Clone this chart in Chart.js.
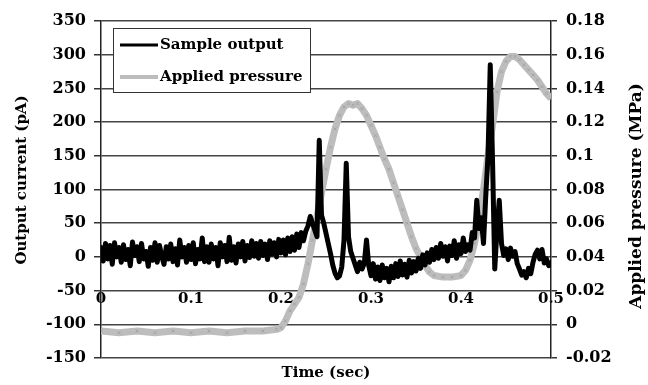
<!DOCTYPE html>
<html>
<head>
<meta charset="utf-8">
<script src="https://cdn.jsdelivr.net/npm/chart.js@4.4.1/dist/chart.umd.min.js"></script>
<style>
  body { margin: 0; background: #fff; }
  canvas { display: block; }
</style>
</head>
<body>
<canvas id="chart" width="648" height="385"></canvas>
<script>
// labels
var xTitle = "Time (sec)";
var yTitle = "Output current (pA)";
var y1Title = "Applied pressure (MPa)";
var seriesNames = ["Sample output", "Applied pressure"];

// output current (pA), sampled every 2.5 ms from 0 to 0.5 s
var currentValues = [
  14, -6, 20, -3, 17, -11, 21, 0, 14, -8,
  18, -4, 11, -13, 22, 2, 15, -7, 20, -3,
  8, -14, 14, -5, 21, -8, 17, 1, -11, 15,
  -3, 19, -7, 12, -12, 25, 0, 14, -8, 17,
  -4, 21, -10, 11, -3, 28, -7, 15, -8, 19,
  -3, 14, -13, 21, 0, 17, -7, 29, -5, 15,
  -9, 19, 0, 23, -6, 17, -1, 24, 1, 20,
  -2, 23, 2, 19, -4, 24, 4, 21, 0, 26,
  6, 25, 3, 28, 8, 30, 10, 34, 14, 36,
  24, 38, 46, 60, 50, 40, 30, 173, 62, 50,
  35, 20, 5, -12, -24, -31, -28, -15, 25, 139,
  30, 8, -2, -12, -22, -8, -18, -10, 25, -13,
  -28, -10, -33, -15, -35, -12, -31, -17, -37, -14,
  -31, -10, -29, -6, -27, -11, -30, -5, -24, -7,
  -21, -2, -17, 3, -12, 6, -8, 11, -4, 14,
  -2, 20, 1, 15, -6, 16, 2, 24, -2, 18,
  5, 28, 8, 18, 10, 36, 28, 84, 42, 58,
  20, 90, 150, 285, 145, -18, 40, 84, 20, 2,
  12, -4, 13, 1, 8, -10, -18, -27, -22, -31,
  -17, -25, -8, 4, 10, -3, 11, -9, -3, -13,
  -9
];
var currentTime = [];
for (var i = 0; i < currentValues.length; i++) {
  currentTime.push(+(i * 0.0025).toFixed(4));
}

// applied pressure (MPa)
var pressureTime = [
  0, 0.02, 0.04, 0.06, 0.08, 0.1, 0.12, 0.14, 0.16, 0.18, 0.195,
  0.2, 0.205, 0.21, 0.215, 0.22, 0.225, 0.23, 0.235, 0.24, 0.245,
  0.25, 0.255, 0.26, 0.265, 0.27, 0.275, 0.28, 0.285, 0.29, 0.295,
  0.3, 0.305, 0.31, 0.315, 0.32, 0.325, 0.33, 0.335, 0.34, 0.345,
  0.35, 0.355, 0.36, 0.365, 0.37, 0.38, 0.39,
  0.4, 0.405, 0.41, 0.415, 0.42, 0.425, 0.43, 0.435, 0.44, 0.445,
  0.45, 0.455, 0.46, 0.465, 0.47, 0.475, 0.48, 0.485, 0.49, 0.495, 0.5
];
var pressureValues = [
  -0.004, -0.005, -0.004, -0.005, -0.004, -0.005, -0.004, -0.005, -0.004, -0.004, -0.003,
  -0.002, 0.002, 0.008, 0.012, 0.016, 0.024, 0.036, 0.05, 0.064, 0.078,
  0.092, 0.105, 0.116, 0.124, 0.129, 0.131, 0.130, 0.131, 0.128, 0.124,
  0.118, 0.112, 0.105, 0.098, 0.092, 0.084, 0.076, 0.068, 0.06, 0.052,
  0.045, 0.04, 0.035, 0.031, 0.029, 0.028, 0.028,
  0.029, 0.032, 0.038, 0.048, 0.062, 0.08, 0.1, 0.118, 0.138, 0.15,
  0.156, 0.159, 0.159, 0.157, 0.154, 0.151, 0.148, 0.145, 0.141, 0.137, 0.134
];

var currentTicks = { min: -150, max: 350, step: 50 };
var pressureTicks = { min: -0.02, max: 0.18, step: 0.02 };
var timeTicks = { min: 0, max: 0.5, step: 0.1 };

var serif = "'DejaVu Serif', 'Liberation Serif', serif";

function toPoints(xs, ys) {
  return xs.map(function (x, i) { return { x: x, y: ys[i] }; });
}

function shortNum(v) {
  return String(+v.toFixed(2));
}

var titlesAndLegend = {
  id: 'titlesAndLegend',
  afterDraw: function (chart) {
    var ctx = chart.ctx;
    var a = chart.chartArea;
    ctx.save();
    ctx.fillStyle = '#000';
    ctx.textAlign = 'center';
    ctx.textBaseline = 'middle';

    ctx.font = 'bold 15px ' + serif;
    ctx.fillText(xTitle, (a.left + a.right) / 2, a.bottom + 15);

    ctx.save();
    ctx.translate(22, 180);
    ctx.rotate(-Math.PI / 2);
    ctx.font = 'bold 15px ' + serif;
    ctx.fillText(yTitle, 0, 0);
    ctx.restore();

    ctx.save();
    ctx.translate(637, 196);
    ctx.rotate(-Math.PI / 2);
    ctx.font = 'bold 17px ' + serif;
    ctx.fillText(y1Title, 0, 0);
    ctx.restore();

    // legend box
    var bx = a.left + 12, by = a.top + 7, bw = 197, bh = 64;
    ctx.fillStyle = '#fff';
    ctx.fillRect(bx, by, bw, bh);
    ctx.strokeStyle = '#333';
    ctx.lineWidth = 1;
    ctx.strokeRect(bx + 0.5, by + 0.5, bw, bh);

    var ds = chart.data.datasets;
    var rows = [by + 17, by + 49];
    for (var k = 0; k < ds.length; k++) {
      ctx.strokeStyle = ds[k].borderColor;
      ctx.lineWidth = k === 0 ? 3 : 4;
      ctx.beginPath();
      ctx.moveTo(bx + 7, rows[k]);
      ctx.lineTo(bx + 45, rows[k]);
      ctx.stroke();
      ctx.fillStyle = '#000';
      ctx.textAlign = 'left';
      ctx.font = 'bold 15px ' + serif;
      ctx.fillText(ds[k].label, bx + 47, rows[k]);
    }
    ctx.restore();
  }
};

var ctx = document.getElementById('chart').getContext('2d');
var chart = new Chart(ctx, {
  type: 'line',
  data: {
    datasets: [
      {
        label: seriesNames[0],
        data: toPoints(currentTime, currentValues),
        borderColor: '#000000',
        borderWidth: 5,
        borderJoinStyle: 'round',
        borderCapStyle: 'round',
        pointRadius: 0,
        tension: 0,
        xAxisID: 'x',
        yAxisID: 'y'
      },
      {
        label: seriesNames[1],
        data: toPoints(pressureTime, pressureValues),
        borderColor: '#bdbdbd',
        borderWidth: 7,
        borderJoinStyle: 'round',
        pointRadius: 2,
        pointStyle: 'crossRot',
        pointBorderColor: '#a4a4a4',
        pointBorderWidth: 1,
        tension: 0,
        xAxisID: 'x',
        yAxisID: 'y1'
      }
    ]
  },
  options: {
    responsive: false,
    animation: false,
    layout: { padding: { top: 21, left: 0, right: 0, bottom: 0 } },
    plugins: {
      legend: { display: false },
      tooltip: { enabled: false }
    },
    scales: {
      x: {
        type: 'linear',
        position: 'bottom',
        min: timeTicks.min,
        max: timeTicks.max,
        ticks: { display: false },
        grid: { display: false },
        border: { display: false },
        afterFit: function (s) { s.height = 27; }
      },
      x2: {
        type: 'linear',
        axis: 'x',
        position: { y: -50 },
        min: timeTicks.min,
        max: timeTicks.max,
        ticks: {
          stepSize: timeTicks.step,
          color: '#000',
          padding: -8,
          maxRotation: 0,
          font: { family: serif, weight: 'bold', size: 15 },
          callback: shortNum
        },
        grid: { display: false },
        border: { display: false }
      },
      y: {
        position: 'left',
        min: currentTicks.min,
        max: currentTicks.max,
        ticks: {
          stepSize: currentTicks.step,
          color: '#000',
          padding: 8,
          font: { family: serif, weight: 'bold', size: 16 }
        },
        grid: { color: '#444', lineWidth: 1.5, tickLength: 7, tickColor: '#333' },
        border: { color: '#222', width: 1.5 },
        afterFit: function (s) { s.width = 101; }
      },
      y1: {
        position: 'right',
        min: pressureTicks.min,
        max: pressureTicks.max,
        ticks: {
          stepSize: pressureTicks.step,
          color: '#000',
          padding: 9,
          font: { family: serif, weight: 'bold', size: 16 },
          callback: shortNum
        },
        grid: { drawOnChartArea: false, tickLength: 6, color: '#333', lineWidth: 1.5 },
        border: { color: '#222', width: 1.5 },
        afterFit: function (s) { s.width = 97; }
      }
    }
  },
  plugins: [titlesAndLegend]
});
</script>
</body>
</html>
